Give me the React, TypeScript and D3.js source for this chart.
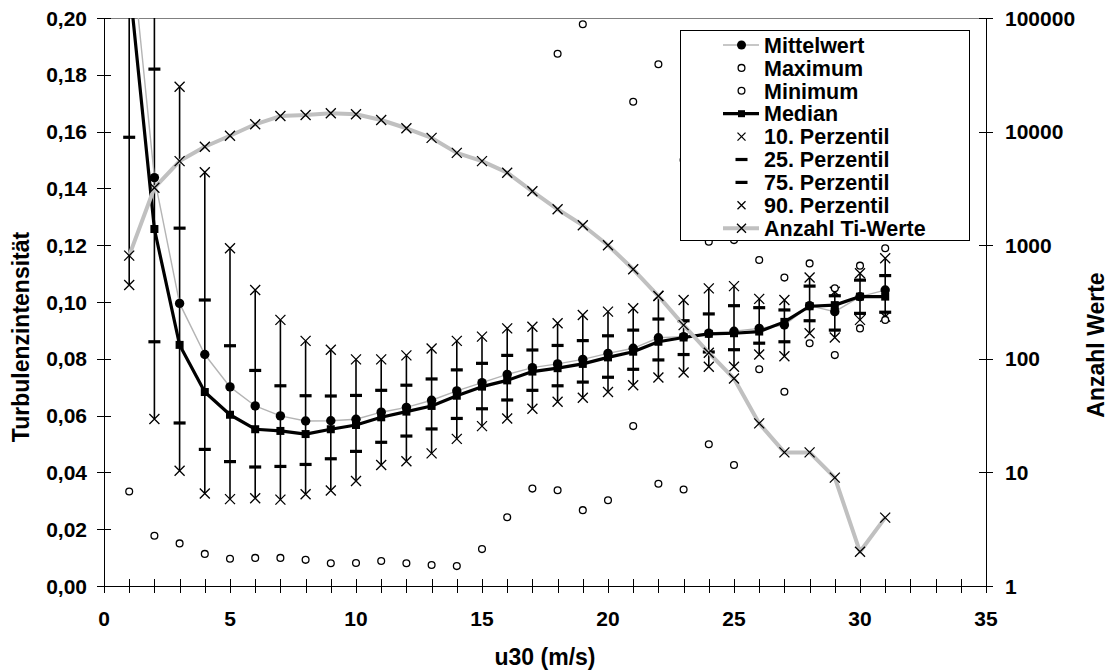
import React from 'react';
import * as d3 from 'd3';

// ---- data ----
const windSpeed = [1, 2, 3, 4, 5, 6, 7, 8, 9, 10, 11, 12, 13, 14, 15, 16, 17, 18, 19, 20, 21, 22, 23, 24, 25, 26, 27, 28, 29, 30, 31];

const meanTi = [0.232, 0.1438, 0.0995, 0.0815, 0.0701, 0.0634, 0.0599, 0.0581, 0.0582, 0.0587, 0.0612, 0.0629, 0.0654, 0.0687, 0.0716, 0.0745, 0.0769, 0.0782, 0.0798, 0.0819, 0.0837, 0.0874, 0.0878, 0.089, 0.0897, 0.0907, 0.0919, 0.0987, 0.0966, 0.1019, 0.1042];

const medianTi = [0.213, 0.1257, 0.0849, 0.0683, 0.0603, 0.0552, 0.0546, 0.0535, 0.0552, 0.0567, 0.0594, 0.0614, 0.0634, 0.067, 0.0702, 0.0724, 0.0755, 0.0767, 0.0782, 0.0805, 0.0825, 0.086, 0.0875, 0.0888, 0.089, 0.0896, 0.093, 0.0985, 0.0989, 0.1019, 0.1019];

const maxTi: (number | null)[] = [null, null, null, null, null, null, null, null, null, null, null, null, null, null, null, null, null, 0.1874, 0.1978, null, 0.1705, 0.1837, 0.15, 0.1212, 0.1218, 0.1148, 0.1086, 0.1136, 0.1048, 0.1128, 0.1189];

const minTi = [0.0333, 0.0177, 0.015, 0.0113, 0.0096, 0.0099, 0.0099, 0.0092, 0.008, 0.0081, 0.0088, 0.008, 0.0074, 0.007, 0.013, 0.0242, 0.0343, 0.0337, 0.0267, 0.0302, 0.0563, 0.036, 0.034, 0.0499, 0.0426, 0.0763, 0.0684, 0.0855, 0.0813, 0.0907, 0.0937];

const p10Ti = [0.106, 0.0588, 0.0406, 0.0326, 0.0306, 0.0309, 0.0304, 0.0323, 0.0336, 0.037, 0.0426, 0.0439, 0.0467, 0.0518, 0.0563, 0.059, 0.0624, 0.0649, 0.0663, 0.0683, 0.0707, 0.0734, 0.0752, 0.0772, 0.0772, 0.0815, 0.0809, 0.089, 0.0875, 0.0937, 0.0948];

const p25Ti = [0.158, 0.086, 0.0574, 0.0481, 0.0438, 0.0419, 0.0421, 0.0428, 0.0448, 0.0474, 0.0506, 0.0528, 0.0553, 0.059, 0.0624, 0.0655, 0.0689, 0.0705, 0.0718, 0.0735, 0.0763, 0.0796, 0.0815, 0.0824, 0.0832, 0.0855, 0.086, 0.0934, 0.0901, 0.096, 0.0964];

const p75Ti = [0.25, 0.182, 0.126, 0.1007, 0.0846, 0.0759, 0.0705, 0.067, 0.0669, 0.0671, 0.0689, 0.0707, 0.0729, 0.0761, 0.0784, 0.0812, 0.0831, 0.0847, 0.0864, 0.0881, 0.0901, 0.094, 0.0934, 0.0958, 0.0987, 0.098, 0.0972, 0.1056, 0.1022, 0.1077, 0.1093];

const p90Ti = [0.32, 0.24, 0.1758, 0.1457, 0.1189, 0.1042, 0.0937, 0.0863, 0.0832, 0.0798, 0.0798, 0.0812, 0.0836, 0.0863, 0.0878, 0.0907, 0.0913, 0.0925, 0.0954, 0.0966, 0.0978, 0.1022, 0.1007, 0.1048, 0.1056, 0.1011, 0.1007, 0.1086, 0.1036, 0.1101, 0.1154];

const countTi = [810, 3200, 5500, 7360, 9200, 11600, 13700, 14000, 14500, 14200, 12650, 10700, 8800, 6500, 5500, 4350, 2980, 2070, 1500, 1000, 614, 357, 198, 113, 67, 27, 15, 15, 9, 2, 4];

const xTicks = [0, 5, 10, 15, 20, 25, 30, 35];
const xMinorTicks = [0, 1, 2, 3, 4, 5, 6, 7, 8, 9, 10, 11, 12, 13, 14, 15, 16, 17, 18, 19, 20, 21, 22, 23, 24, 25, 26, 27, 28, 29, 30, 31, 32, 33, 34, 35];
const yTicks = [0, 0.02, 0.04, 0.06, 0.08, 0.1, 0.12, 0.14, 0.16, 0.18, 0.2];
const yRightTicks = [1, 10, 100, 1000, 10000, 100000];

const legendLabels = ['Mittelwert', 'Maximum', 'Minimum', 'Median', '10. Perzentil', '25. Perzentil', '75. Perzentil', '90. Perzentil', 'Anzahl Ti-Werte'];

// ---- layout ----
const W = 1115;
const H = 671;
const L = 104, R = 986, T = 18, B = 586;
const FONT = '"Liberation Sans", Arial, Helvetica, sans-serif';

const x = d3.scaleLinear().domain([0, 35]).range([L, R]);
const y = d3.scaleLinear().domain([0, 0.2]).range([B, T]);
const yR = d3.scaleLog().domain([1, 100000]).range([B, T]);

const fmtY = (v: number) => d3.format('.2f')(v).replace('.', ',');

const XMark = ({ cx, cy, s = 5 }: { cx: number; cy: number; s?: number }) => (
  <path d={`M${cx - s},${cy - s}L${cx + s},${cy + s}M${cx - s},${cy + s}L${cx + s},${cy - s}`} stroke="#000" strokeWidth={1.3} fill="none" />
);
const Dash = ({ cx, cy }: { cx: number; cy: number }) => (
  <rect x={cx - 6} y={cy - 1.6} width={12} height={3.2} fill="#000" />
);
const Square = ({ cx, cy, s = 4 }: { cx: number; cy: number; s?: number }) => (
  <rect x={cx - s} y={cy - s} width={2 * s} height={2 * s} fill="#000" />
);
const Dot = ({ cx, cy, r = 4.7 }: { cx: number; cy: number; r?: number }) => <circle cx={cx} cy={cy} r={r} fill="#000" />;
const Ring = ({ cx, cy }: { cx: number; cy: number }) => (
  <circle cx={cx} cy={cy} r={3.4} fill="#fff" stroke="#000" strokeWidth={1.3} />
);

export default function App() {
  const meanLine = d3.line<number>().x((_, i) => x(windSpeed[i])).y((d) => y(d))(meanTi) || '';
  const medianLine = d3.line<number>().x((_, i) => x(windSpeed[i])).y((d) => y(d))(medianTi) || '';
  const countLine = d3.line<number>().x((_, i) => x(windSpeed[i])).y((d) => yR(d))(countTi) || '';

  const legX = 680, legY = 30, legW = 289, legH = 210;
  const rowY = (i: number) => 45 + i * 22.9;
  const symX = 741.5;

  return (
    <svg width={W} height={H} style={{ position: 'absolute', left: 0, top: 0, background: '#fff' }} fontFamily={FONT}>
      <rect x={0} y={0} width={W} height={H} fill="#fff" />
      <defs>
        <clipPath id="plot">
          <rect x={L} y={T} width={R - L} height={B - T} />
        </clipPath>
      </defs>

      {/* frame */}
      <line x1={L} x2={R} y1={T + 0.5} y2={T + 0.5} stroke="#808080" strokeWidth={1} />
      <line x1={L + 0.5} x2={L + 0.5} y1={T} y2={B} stroke="#000" strokeWidth={1} />
      <line x1={R + 0.5} x2={R + 0.5} y1={T} y2={B} stroke="#000" strokeWidth={1} />
      <line x1={L} x2={R} y1={B + 0.5} y2={B + 0.5} stroke="#000" strokeWidth={1} />

      {/* x ticks */}
      {xMinorTicks.map((t) => (
        <line key={'xt' + t} x1={Math.round(x(t)) + 0.5} x2={Math.round(x(t)) + 0.5} y1={B - 7} y2={B + 7} stroke="#000" strokeWidth={1} />
      ))}
      {xTicks.map((t) => (
        <text key={'xl' + t} x={x(t)} y={626} textAnchor="middle" fontSize={21} fontWeight="bold" fill="#000">
          {t}
        </text>
      ))}

      {/* left y ticks */}
      {yTicks.map((t) => (
        <g key={'yt' + t}>
          <line x1={L - 7} x2={L + 7} y1={Math.round(y(t)) + 0.5} y2={Math.round(y(t)) + 0.5} stroke="#000" strokeWidth={1} />
          <text x={87} y={y(t)} dy="0.36em" textAnchor="end" fontSize={21} fontWeight="bold" fill="#000">
            {fmtY(t)}
          </text>
        </g>
      ))}

      {/* right y ticks */}
      {yRightTicks.map((t) => (
        <g key={'yr' + t}>
          <line x1={R - 7} x2={R + 7} y1={Math.round(yR(t)) + 0.5} y2={Math.round(yR(t)) + 0.5} stroke="#000" strokeWidth={1} />
          <text x={1005} y={yR(t)} dy="0.36em" textAnchor="start" fontSize={21} fontWeight="bold" fill="#000">
            {t}
          </text>
        </g>
      ))}

      {/* axis titles */}
      <text x={545} y={665} textAnchor="middle" fontSize={23} fontWeight="bold" fill="#000">u30 (m/s)</text>
      <text transform="translate(21,337) rotate(-90)" dy="0.36em" textAnchor="middle" fontSize={23} fontWeight="bold" fill="#000">Turbulenzintensität</text>
      <text transform="translate(1096,345) rotate(-90)" dy="0.36em" textAnchor="middle" fontSize={23} fontWeight="bold" fill="#000">Anzahl Werte</text>

      <g clipPath="url(#plot)">
        {/* percentile whiskers */}
        {windSpeed.map((u, i) => (
          <line key={'w' + u} x1={x(u)} x2={x(u)} y1={y(p10Ti[i])} y2={y(p90Ti[i])} stroke="#000" strokeWidth={1.6} />
        ))}
        {/* mean line */}
        <path d={meanLine} fill="none" stroke="#b4b4b4" strokeWidth={1.4} />
        {/* median line */}
        <path d={medianLine} fill="none" stroke="#000" strokeWidth={3.2} strokeLinejoin="round" />

        {windSpeed.map((u, i) => (
          <g key={'m' + u}>
            <XMark cx={x(u)} cy={y(p10Ti[i])} />
            <Dash cx={x(u)} cy={y(p25Ti[i])} />
            <Dash cx={x(u)} cy={y(p75Ti[i])} />
            <XMark cx={x(u)} cy={y(p90Ti[i])} />
            <Ring cx={x(u)} cy={y(minTi[i])} />
            {maxTi[i] !== null && <Ring cx={x(u)} cy={y(maxTi[i] as number)} />}
            <Square cx={x(u)} cy={y(medianTi[i])} />
            <Dot cx={x(u)} cy={y(meanTi[i])} />
          </g>
        ))}

        {/* count (secondary axis) */}
        <path d={countLine} fill="none" stroke="#c0c0c0" strokeWidth={4} strokeLinejoin="round" />
        {windSpeed.map((u, i) => (
          <XMark key={'c' + u} cx={x(u)} cy={yR(countTi[i])} />
        ))}
      </g>

      {/* legend */}
      <g>
        <rect x={legX + 0.5} y={legY + 0.5} width={legW} height={legH} fill="#fff" stroke="#000" strokeWidth={1} />
        {legendLabels.map((lab, i) => {
          const cy = rowY(i);
          let sym: React.ReactNode = null;
          if (i === 0) sym = (<g><line x1={723} x2={759} y1={cy} y2={cy} stroke="#b4b4b4" strokeWidth={1.4} /><Dot cx={symX} cy={cy} r={4.5} /></g>);
          else if (i === 1 || i === 2) sym = <Ring cx={symX} cy={cy} />;
          else if (i === 3) sym = (<g><line x1={723} x2={759} y1={cy} y2={cy} stroke="#000" strokeWidth={3.2} /><Square cx={symX} cy={cy} s={3.5} /></g>);
          else if (i === 4 || i === 7) sym = <XMark cx={symX} cy={cy} s={4} />;
          else if (i === 5 || i === 6) sym = <Dash cx={symX} cy={cy} />;
          else sym = (<g><line x1={723} x2={759} y1={cy} y2={cy} stroke="#c0c0c0" strokeWidth={4} /><XMark cx={symX} cy={cy} s={4.5} /></g>);
          return (
            <g key={'lg' + i}>
              {sym}
              <text x={764} y={cy} dy="0.36em" fontSize={21.5} fontWeight="bold" fill="#000">{lab}</text>
            </g>
          );
        })}
      </g>
    </svg>
  );
}
